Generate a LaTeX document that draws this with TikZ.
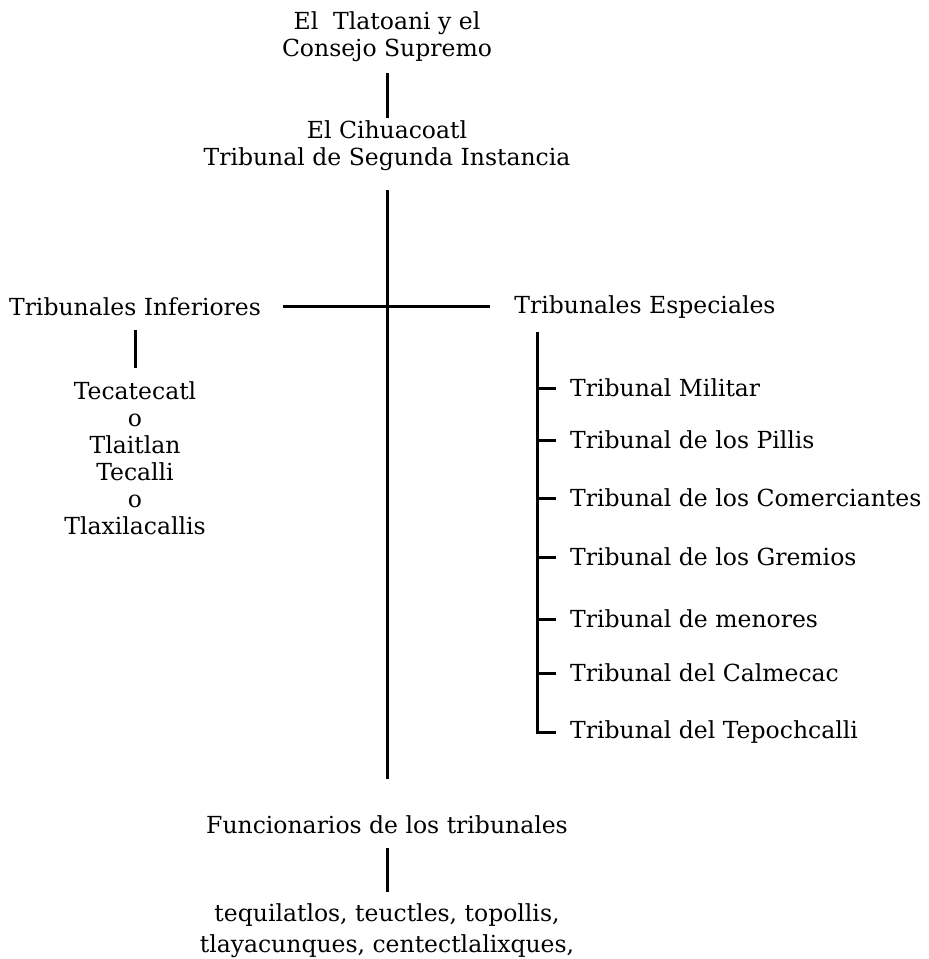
\documentclass[tikz,border=0pt]{standalone}
\usepackage{fontspec}
\setmainfont{DejaVu Serif}
\begin{document}
\begin{tikzpicture}[x=1pt,y=-1pt,
  lbl/.style={inner sep=0pt,font=\fontsize{23.5}{27}\selectfont,align=center},
  item/.style={inner sep=0pt,font=\fontsize{23.5}{27}\selectfont,anchor=west},
  ln/.style={line width=3pt}]
\useasboundingbox (0,0) rectangle (929,959);
\node[lbl] (top) at (387,37) {El\ \ Tlatoani y el\\Consejo Supremo};
\node[lbl] (cih) at (387,146) {El Cihuacoatl\\Tribunal de Segunda Instancia};
\node[lbl] (inf) at (135,307) {Tribunales Inferiores};
\node[lbl] (esp) at (645,307) {Tribunales Especiales};
\node[lbl] (tec) at (135,458) {Tecatecatl\\o\\Tlaitlan\\Tecalli\\o\\Tlaxilacallis};
\node[lbl] (fun) at (387,825) {Funcionarios de los tribunales};
\node[lbl,anchor=north,font=\fontsize{23.5}{31}\selectfont] (teq) at (387,903) {tequilatlos, teuctles, topollis,\\tlayacunques, centectlalixques,};
\foreach \n/\y/\t in {m1/388/Tribunal Militar,m2/440/Tribunal de los Pillis,m3/498/Tribunal de los Comerciantes,m4/557/Tribunal de los Gremios,m5/619/Tribunal de menores,m6/673/Tribunal del Calmecac,m7/732/Tribunal del Tepochcalli}
  \node[item] (\n) at (570,\y) {\t};
\coordinate (a1) at (387,73); \coordinate (a2) at (387,118);
\draw[ln] (a1) -- (a2);
\coordinate (b1) at (387,190); \coordinate (b2) at (387,779);
\draw[ln] (b1) -- (b2);
\coordinate (h1) at (283,306); \coordinate (h2) at (490,306);
\draw[ln] (h1) -- (h2);
\coordinate (c1) at (135,330); \coordinate (c2) at (135,368);
\draw[ln] (c1) -- (c2);
\coordinate (e1) at (537,332);
\draw[ln] (e1) |- ([xshift=-14pt]m7.west);
\foreach \n in {m1,m2,m3,m4,m5,m6}
  \draw[ln] (\n.west -| e1) -- ([xshift=-14pt]\n.west);
\coordinate (f1) at (387,848); \coordinate (f2) at (387,892);
\draw[ln] (f1) -- (f2);
\end{tikzpicture}
\end{document}
